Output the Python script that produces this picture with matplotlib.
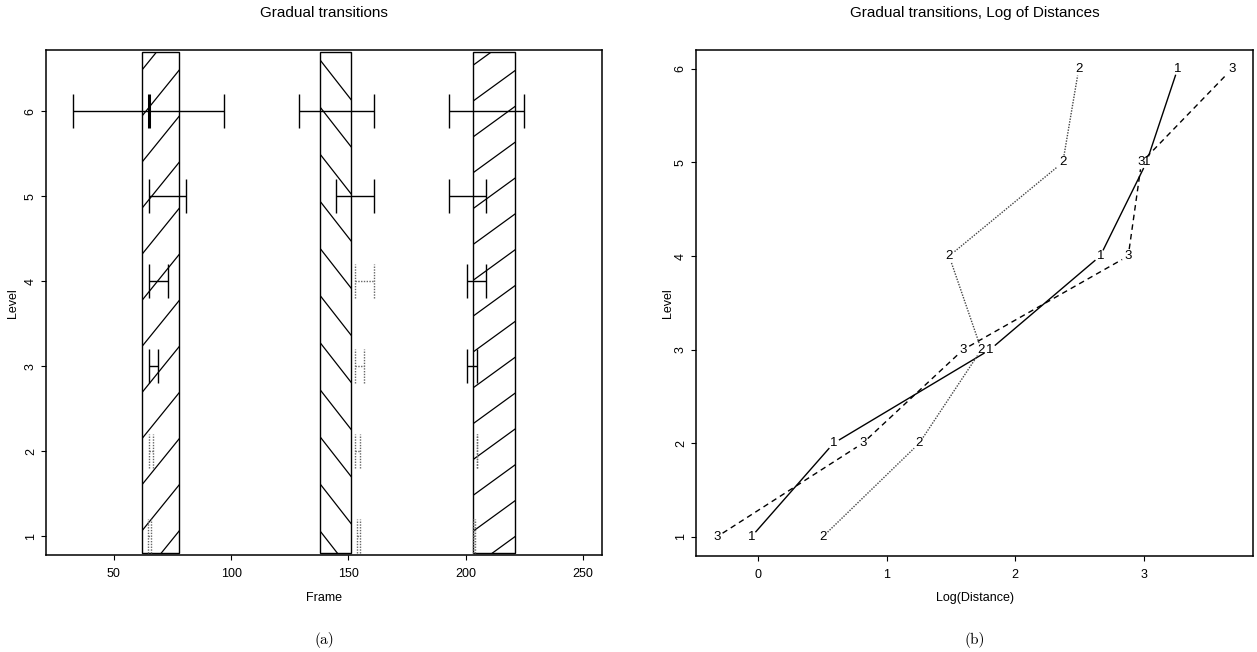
import matplotlib
matplotlib.use("Agg")
import matplotlib.pyplot as plt
from matplotlib.patches import Rectangle
import numpy as np

plt.rcParams['font.family'] = ['Liberation Sans', 'DejaVu Sans']

levels = [1, 2, 3, 4, 5, 6]

# (a) marked gradual transitions, frame ranges
zone_start = [61.8, 138.0, 203.1]
zone_end = [77.9, 150.9, 221.0]
zone_angle = [51, 128, 36]      # shading angle of each zone

# detected interval per level, one list per transition
t1_lo = [64.5, 64.8, 64.9, 64.9, 64.9, 32.6]
t1_hi = [65.9, 66.8, 68.7, 73.0, 80.9, 96.9]
t2_lo = [153.7, 152.8, 152.8, 152.8, 144.9, 128.9]
t2_hi = [155.1, 154.8, 156.8, 161.0, 161.0, 161.0]
t3_lo = [203.3, 204.6, 200.7, 200.7, 192.9, 192.9]
t3_hi = [204.1, 205.0, 204.7, 208.7, 208.7, 225.0]
# 1 = accepted (solid), 0 = rejected (dotted)
t1_ok = [0, 0, 1, 1, 1, 1]
t2_ok = [0, 0, 0, 0, 1, 1]
t3_ok = [0, 0, 1, 1, 1, 1]
t1_mark = 64.8   # extra mark on the top level

# (b) log of distances per level
logd_1 = [-0.055, 0.585, 1.803, 2.661, 3.021, 3.264]
logd_2 = [0.500, 1.252, 1.736, 1.485, 2.370, 2.494]
logd_3 = [-0.324, 0.812, 1.594, 2.879, 2.982, 3.688]

W, H = 1257, 652
fig = plt.figure(figsize=(W / 100, H / 100), dpi=100)
axL = fig.add_axes([46 / W, 1 - 555 / H, 556 / W, 505 / H])
axR = fig.add_axes([696 / W, 1 - 555.7 / H, 557 / W, 505.7 / H])

axL.set_xlim(21.05, 258.1)
axL.set_ylim(0.78, 6.72)
axR.set_xlim(-0.485, 3.85)
axR.set_ylim(0.8, 6.2)

for ax in (axL, axR):
    for s in ax.spines.values():
        s.set_linewidth(1.1)
    ax.tick_params(direction='out', length=3.6, width=0.8, labelsize=9)
    ax.tick_params(axis='x', pad=6)
    ax.tick_params(axis='y', pad=3)
    ax.set_yticks(levels)
    for lab in ax.get_yticklabels():
        lab.set_rotation(90)
        lab.set_va('center')

axL.set_xticks([50, 100, 150, 200, 250])
axR.set_xticks([0, 1, 2, 3])


# ---- (a) shaded zones ---------------------------------------
def shade(ax, x0, x1, y0, y1, angle, spacing=29, offset=22):
    rect = Rectangle((x0, y0), x1 - x0, y1 - y0, fill=False,
                     edgecolor='black', lw=1.0, zorder=2)
    ax.add_patch(rect)
    tr = ax.transData
    (px0, py0), (px1, py1) = tr.transform([(x0, y0), (x1, y1)])
    a = np.radians(angle)
    d = np.array([np.cos(a), np.sin(a)])
    n = np.array([-np.sin(a), np.cos(a)])
    start = np.array([px0, py0 + offset])
    corners = np.array([[px0, py0], [px1, py0], [px0, py1], [px1, py1]])
    proj = (corners - start) @ n
    k0 = int(np.floor(proj.min() / spacing)) - 1
    k1 = int(np.ceil(proj.max() / spacing)) + 1
    L = 2 * np.hypot(px1 - px0, py1 - py0)
    for k in range(k0, k1 + 1):
        c = start + k * spacing * n
        pts = tr.inverted().transform([c - L * d, c + L * d])
        ln, = ax.plot(pts[:, 0], pts[:, 1], color='black', lw=0.9,
                      zorder=2)
        ln.set_clip_path(rect)


for x0, x1, ang in zip(zone_start, zone_end, zone_angle):
    shade(axL, x0, x1, 0.8, 6.7, ang)

# ---- (a) interval bars --------------------------------------
cap = 0.2
for lo, hi, ok in ((t1_lo, t1_hi, t1_ok), (t2_lo, t2_hi, t2_ok),
                   (t3_lo, t3_hi, t3_ok)):
    for lev, a, b, good in zip(levels, lo, hi, ok):
        if good:
            kw = dict(color='black', lw=1.0, linestyles='solid')
        else:
            kw = dict(color='#666666', lw=1.0, linestyles=(0, (1, 1)))
        axL.hlines(lev, a, b, zorder=3, **kw)
        axL.vlines([a, b], lev - cap, lev + cap, zorder=3, **kw)

axL.vlines(t1_mark, levels[-1] - cap, levels[-1] + cap, color='black',
           lw=2.2, zorder=4)

# ---- (b) numbered lines with gaps ---------------------------
gap = 7
series = [('1', logd_1, dict(color='black', ls='-', lw=1.0)),
          ('2', logd_2, dict(color='#444444', ls=(0, (1, 1)), lw=1.0)),
          ('3', logd_3, dict(color='black', ls=(0, (4, 3)), lw=1.0))]
tr = axR.transData
for lab, xs, kw in series:
    pix = tr.transform(np.column_stack([xs, levels]))
    for p, q in zip(pix[:-1], pix[1:]):
        v = q - p
        dist = np.hypot(*v)
        if dist <= 2 * gap:
            continue
        u = v / dist
        seg = tr.inverted().transform([p + gap * u, q - gap * u])
        axR.plot(seg[:, 0], seg[:, 1], **kw)
    for x, y in zip(xs, levels):
        axR.text(x, y, lab, ha='center', va='center', fontsize=9.5)

# ---- titles and labels --------------------------------------
cxL = (46 + 602) / 2 / W
cxR = (696 + 1253) / 2 / W
fig.text(cxL, 1 - 13 / H, 'Gradual transitions', ha='center',
         va='center', fontsize=11)
fig.text(cxR, 1 - 13 / H, 'Gradual transitions, Log of Distances',
         ha='center', va='center', fontsize=11)
fig.text(cxL, 1 - 598 / H, 'Frame', ha='center', va='center', fontsize=9)
fig.text(cxR, 1 - 598 / H, 'Log(Distance)', ha='center', va='center',
         fontsize=9)
fig.text(13 / W, 1 - 303 / H, 'Level', ha='center', va='center',
         rotation=90, fontsize=9)
fig.text(668 / W, 1 - 303 / H, 'Level', ha='center', va='center',
         rotation=90, fontsize=9)
fig.text(cxL, 1 - 640 / H, '(a)', ha='center', va='center',
         fontsize=11, family='cmr10')
fig.text(cxR, 1 - 640 / H, '(b)', ha='center', va='center',
         fontsize=11, family='cmr10')

fig.savefig('out.png', dpi=100)
